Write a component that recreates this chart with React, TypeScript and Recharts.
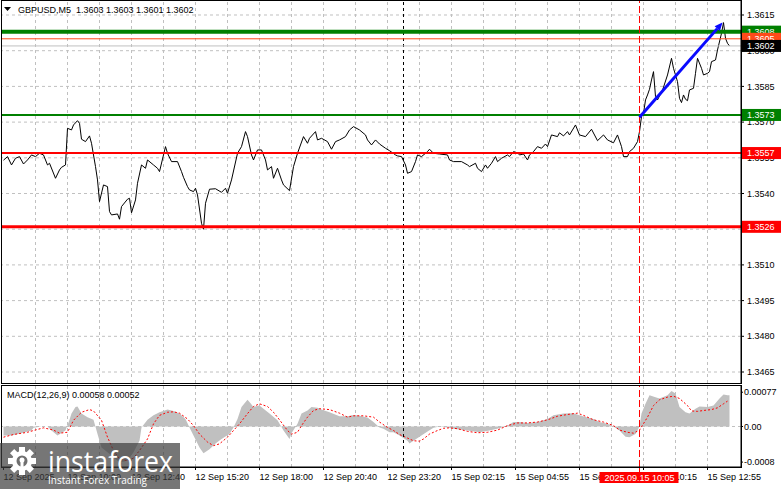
import { ComposedChart, Line, Area, XAxis, YAxis, ReferenceLine } from "recharts";

const FONT = "'Liberation Sans', Arial, sans-serif";
const W = 781;

// GBPUSD M5, bar 0 = 12 Sep 07:20
const priceBars = [
  0, 2, 4, 6, 8, 10, 12, 14, 16, 18, 20, 22, 23, 26, 28, 29, 31, 32, 34, 35, 37, 38, 39, 41, 43, 44,
  46, 47, 48, 50, 52, 53, 54, 57, 58, 59, 62, 63, 64, 66, 67, 69, 71, 72, 75, 77, 78, 80, 81, 82, 84,
  87, 89, 90, 92, 93, 95, 96, 97, 99, 100, 101, 103, 106, 109, 111, 112, 114, 117, 119, 121, 122, 124,
  125, 127, 129, 131, 132, 134, 135, 137, 139, 140, 143, 145, 147, 150, 152, 153, 156, 157, 159, 162,
  164, 166, 168, 171, 173, 175, 178, 181, 182, 184, 186, 188, 191, 193, 196, 197, 199, 201, 202, 204,
  206, 207, 209, 212, 213, 215, 218, 222, 223, 225, 229, 232, 233, 236, 237, 239, 241, 242, 244, 246,
  247, 249, 252, 253, 255, 257, 258, 260, 262, 263, 265, 267, 269, 271, 272, 274, 277, 278, 280, 282,
  283, 286, 288, 291, 294, 297, 300, 302, 305, 307, 309, 310, 312, 313, 315, 317, 318, 319, 320, 321,
  322, 323, 324, 325, 326, 327, 328, 329, 332, 334, 335, 337, 338, 339, 340, 341, 342, 343, 345, 346,
  347, 349, 350, 352, 353, 354, 356, 357, 359, 360, 361, 362, 363,
];
const priceClose = [
  1.3554, 1.35555, 1.3552, 1.35548, 1.35555, 1.35524, 1.35541, 1.35562, 1.35555, 1.35569, 1.35562,
  1.3552, 1.35527, 1.35464, 1.35499, 1.3551, 1.3552, 1.35674, 1.35667, 1.35688, 1.35706, 1.35695,
  1.35628, 1.35618, 1.35642, 1.35611, 1.35513, 1.35457, 1.35366, 1.35436, 1.35429, 1.35324, 1.3531,
  1.35314, 1.35292, 1.35345, 1.35376, 1.3538, 1.35319, 1.35373, 1.35443, 1.3552, 1.35506, 1.35541,
  1.3552, 1.35506, 1.35492, 1.35562, 1.35597, 1.35569, 1.35534, 1.35534, 1.35492, 1.35468, 1.35429,
  1.35415, 1.35408, 1.35422, 1.35394, 1.35275, 1.3525, 1.35359, 1.35418, 1.3542, 1.35405, 1.35422,
  1.35401, 1.35457, 1.35569, 1.35597, 1.3566, 1.35639, 1.35562, 1.35541, 1.35583, 1.35583, 1.35541,
  1.35499, 1.35513, 1.35464, 1.35506, 1.35457, 1.35436, 1.35412, 1.35513, 1.35569, 1.35639, 1.35611,
  1.35632, 1.3566, 1.35625, 1.35632, 1.35618, 1.35586, 1.35618, 1.35625, 1.35639, 1.35667, 1.35681,
  1.35667, 1.35646, 1.35625, 1.35604, 1.35625, 1.35608, 1.3559, 1.3558, 1.35562, 1.35558, 1.35555,
  1.3552, 1.35485, 1.35492, 1.35534, 1.35562, 1.35555, 1.35576, 1.35586, 1.35569, 1.35566, 1.35562,
  1.35541, 1.35534, 1.35534, 1.3552, 1.35513, 1.35527, 1.35506, 1.35492, 1.3552, 1.35506, 1.35527,
  1.35555, 1.35534, 1.35548, 1.35562, 1.35555, 1.35576, 1.35571, 1.35562, 1.35566, 1.35541, 1.35562,
  1.35576, 1.35597, 1.3559, 1.35608, 1.35597, 1.35646, 1.35639, 1.35655, 1.35642, 1.3566, 1.35646,
  1.35688, 1.35646, 1.35639, 1.3567, 1.35622, 1.35646, 1.35625, 1.35613, 1.35646, 1.35597, 1.35555,
  1.35555, 1.35576, 1.3559, 1.35618, 1.3566, 1.35723, 1.35737, 1.35793, 1.35814, 1.35838, 1.35877,
  1.35912, 1.35807, 1.35793, 1.3581, 1.35821, 1.35898, 1.35968, 1.35926, 1.3587, 1.358, 1.35782,
  1.35814, 1.35796, 1.3579, 1.35835, 1.35842, 1.35905, 1.35968, 1.35926, 1.35898, 1.35905, 1.35912,
  1.35954, 1.35961, 1.36003, 1.36073, 1.36118, 1.36052, 1.36031, 1.3602,
];

// MACD(12,26,9) histogram and signal
const histBars = [
  0, 4, 9, 14, 15, 19, 22, 24, 27, 31, 33, 34, 36, 37, 39, 42, 45, 47, 49, 52, 55, 58, 62, 65, 68, 69,
  72, 75, 78, 82, 85, 88, 91, 93, 95, 98, 100, 103, 106, 109, 113, 115, 117, 119, 122, 123, 125, 128,
  130, 133, 137, 140, 143, 144, 147, 149, 152, 154, 157, 159, 163, 168, 172, 175, 178, 182, 185, 188,
  190, 193, 195, 198, 202, 203, 205, 208, 212, 215, 218, 222, 225, 232, 238, 243, 248, 252, 255, 258,
  262, 267, 272, 275, 280, 285, 288, 292, 295, 298, 302, 305, 308, 311, 313, 316, 318, 319, 321, 323,
  326, 328, 332, 334, 336, 338, 341, 343, 346, 348, 352, 355, 358, 360, 362, 363,
];
const histValues = [
  -0.0002, -0.0002, -0.00015, -0.00009, -0.00003, 0, 0, -0.00009, -0.0002, -0.00009, 0.00015, 0.00029,
  0.00044, 0.00045, 0.00029, 0.00021, 0.00015, -0.00017, -0.00047, -0.00058, -0.00069, -0.00081,
  -0.00077, -0.00058, -0.00032, -0.00002, 0.00015, 0.00025, 0.00032, 0.00038, 0.00035, 0.00029,
  0.00017, -0.00002, -0.0002, -0.00047, -0.0006, -0.00051, -0.00038, -0.00028, -0.00017, -0.00002,
  0.00017, 0.00044, 0.0006, 0.00055, 0.00044, 0.00047, 0.0004, 0.00029, 0.00014, -0.00009, -0.00028,
  -0.00015, 0.00006, 0.00029, 0.00036, 0.00044, 0.00042, 0.00038, 0.00032, 0.00023, 0.00023, 0.00026,
  0.00024, 0.0002, 0.0001, -0.00002, -0.00005, -0.00013, -0.00013, -0.0002, -0.00032, -0.00038,
  -0.00032, -0.00023, -0.00011, -0.00003, 0, -0.00002, -0.00005, -0.00009, -0.00013, -0.00009,
  -0.00004, 0.00002, 0.0001, 0.0001, 0.00008, 0.0001, 0.00017, 0.00025, 0.00029, 0.0003, 0.00025,
  0.0002, 0.00017, 0.0001, 0.00006, 0, -0.00009, -0.00023, -0.00024, -0.00017, 0, 0.00029, 0.00051,
  0.0007, 0.00066, 0.00063, 0.0007, 0.0008, 0.00074, 0.00044, 0.00032, 0.00029, 0.0004, 0.00045,
  0.00044, 0.00047, 0.00063, 0.00072, 0.0007, 0.0007,
];
const signalBars = [
  0, 5, 12, 15, 20, 25, 28, 32, 35, 39, 43, 45, 49, 52, 55, 58, 62, 65, 68, 72, 75, 78, 82, 85, 88, 92,
  95, 98, 102, 105, 108, 112, 115, 118, 122, 125, 128, 132, 135, 138, 142, 144, 147, 149, 152, 155,
  158, 163, 168, 172, 175, 180, 185, 188, 192, 195, 198, 202, 205, 208, 210, 213, 217, 220, 223, 227,
  232, 237, 242, 247, 252, 257, 262, 267, 272, 277, 282, 287, 290, 295, 300, 305, 308, 312, 315, 318,
  322, 325, 328, 332, 335, 338, 342, 344, 347, 350, 354, 357, 360, 362,
];
const signalValues = [
  -0.00024, -0.00018, -0.00013, -0.00009, -0.00003, -0.00008, -0.00015, -0.00013, 0.00014, 0.00032,
  0.00038, 0.00035, 0.00014, -0.00024, -0.00054, -0.00073, -0.00077, -0.00071, -0.00054, -0.00028,
  0.00006, 0.00025, 0.00032, 0.00033, 0.0003, 0.00017, 0.00002, -0.00017, -0.00035, -0.00043,
  -0.00039, -0.00024, -0.00009, 0.00006, 0.00029, 0.00045, 0.00051, 0.00045, 0.00032, 0.00015,
  -0.00009, -0.00017, -0.00013, 0.00002, 0.00021, 0.00036, 0.0004, 0.00038, 0.0003, 0.00021, 0.00024,
  0.00024, 0.00021, 0.0001, -0.00002, -0.00009, -0.00018, -0.00026, -0.00032, -0.00033, -0.00028,
  -0.00017, -0.00009, -0.00004, -0.00003, -0.00005, -0.00011, -0.00014, -0.00013, -0.00008, 0.00002,
  0.00008, 0.00008, 0.0001, 0.00015, 0.00023, 0.00027, 0.0003, 0.00025, 0.00015, 0.0001, 0.00002,
  -0.00008, -0.00013, -0.00015, -0.00008, 0.00021, 0.00047, 0.0006, 0.00066, 0.00068, 0.00063,
  0.00047, 0.00035, 0.00034, 0.00036, 0.00038, 0.00042, 0.00051, 0.00057,
];

const priceTicks = [1.3465, 1.348, 1.3495, 1.351, 1.3525, 1.354, 1.3555, 1.357, 1.3585, 1.36, 1.3615];
const gridBars = [16, 32, 48, 64, 80, 96, 112, 128, 144, 160, 176, 192, 208, 224, 240, 256, 272, 288, 304, 320, 336, 352];
const timeBars = [0, 32, 64, 96, 128, 160, 192, 224, 256, 288, 320, 352];
const timeLabels = [
  "12 Sep 2025", "12 Sep 10:00", "12 Sep 12:40", "12 Sep 15:20", "12 Sep 18:00", "12 Sep 20:40",
  "12 Sep 23:20", "15 Sep 02:15", "15 Sep 04:55", "15 Sep 07:35", "15 Sep 10:15", "15 Sep 12:55",
];
const levelPrices = [1.3608, 1.3573, 1.3557, 1.3526];
const askPrice = 1.3605;
const bidPrice = 1.3602;
const tagPrices = [1.3608, 1.3605, 1.3602, 1.3573, 1.3557, 1.3526];
const macdTicks = [-0.0008, 0, 0.00077];
const macdTickLabels = ["-0.0008", "0.00", "0.00077"];
const daySplitBar = 200;
const entryBar = 318;
const entryTime = "2025.09.15 10:05";
const trendStart = { bar: 318, price: 1.3572 };
const trendEnd = { bar: 359.5, price: 1.36118 };
const ohlc = [1.3603, 1.3603, 1.3601, 1.3602];
const macdNow = [0.00058, 0.00052];

// styles
const levelStroke = ["#008000", "#008000", "#ff0000", "#ff0000"];
const levelWidth = [4, 2, 2, 3];
const tagFill = ["#008000", "#ff4a1a", "#000000", "#008000", "#ff0000", "#ff0000"];

const priceData = priceBars.map((bar, k) => ({ bar, close: priceClose[k] }));
const histData = histBars.map((bar, k) => ({ bar, v: histValues[k] }));
const signalData = signalBars.map((bar, k) => ({ bar, v: signalValues[k] }));

// 2px per bar, offset so vertical lines land on pixel centres
const BAR_DOMAIN: [number, number] = [-0.75, 368.75];
const PRICE_DOMAIN: [number, number] = [1.346038, 1.362088];
const MACD_DOMAIN: [number, number] = [-0.00091, 0.00091];
const GRID = "#c0c0c0";

function PriceTick(props: any) {
  const { x, y, payload } = props;
  const k = tagPrices.indexOf(payload.value);
  if (k >= 0) {
    return (
      <g>
        <rect x={x + 1} y={y - 6} width={40} height={12} fill={tagFill[k]} />
        <text x={x + 6} y={y} dy="0.35em" fontSize={9} fontFamily={FONT} fill="#fff">
          {tagPrices[k].toFixed(4)}
        </text>
      </g>
    );
  }
  return (
    <g>
      <line x1={x} x2={x + 3} y1={y} y2={y} stroke="#000" />
      <text x={x + 6} y={y} dy="0.35em" fontSize={9} fontFamily={FONT} fill="#000">
        {Number(payload.value).toFixed(4)}
      </text>
    </g>
  );
}

function MacdTick(props: any) {
  const { x, y, payload } = props;
  const k = macdTicks.indexOf(payload.value);
  return (
    <g>
      <line x1={x} x2={x + 2} y1={y} y2={y} stroke="#000" />
      <text x={x + 3} y={y} dy="0.35em" fontSize={9} fontFamily={FONT} fill="#000">
        {macdTickLabels[k]}
      </text>
    </g>
  );
}

function TimeTick(props: any) {
  const { x, y, payload } = props;
  if (payload.value === entryBar) {
    return (
      <g>
        <line x1={x} x2={x} y1={y} y2={y + 5} stroke="#ff0000" />
        <rect x={x - 40} y={y + 5} width={79} height={11} fill="#ff0000" />
        <text x={x} y={y + 10.5} dy="0.35em" textAnchor="middle" fontSize={9} fontFamily={FONT} fill="#fff">
          {entryTime}
        </text>
      </g>
    );
  }
  const k = timeBars.indexOf(payload.value);
  return (
    <g>
      <line x1={x} x2={x} y1={y} y2={y + 3} stroke="#000" />
      <text x={x} y={y + 10} dy="0.35em" fontSize={9} fontFamily={FONT} fill="#000">
        {timeLabels[k]}
      </text>
    </g>
  );
}

function TrendArrow(props: any) {
  const { x1, y1, x2, y2 } = props;
  const a = Math.atan2(y2 - y1, x2 - x1);
  const bx = x2 - 8 * Math.cos(a);
  const by = y2 - 8 * Math.sin(a);
  const px = -Math.sin(a) * 3.5;
  const py = Math.cos(a) * 3.5;
  return (
    <g>
      <line x1={x1} y1={y1} x2={bx} y2={by} stroke="#0a0aff" strokeWidth={3} />
      <polygon points={`${x2},${y2} ${bx + px},${by + py} ${bx - px},${by - py}`} fill="#0a0aff" />
    </g>
  );
}

function PriceChart() {
  return (
    <ComposedChart width={W} height={384} margin={{ top: 1, right: 0, bottom: 1, left: 2 }}>
      <XAxis type="number" dataKey="bar" domain={BAR_DOMAIN} allowDataOverflow hide />
      <YAxis
        orientation="right"
        width={40}
        type="number"
        domain={PRICE_DOMAIN}
        allowDataOverflow
        ticks={[...priceTicks, ...tagPrices]}
        interval={0}
        tickSize={0}
        tickMargin={0}
        tickLine={false}
        axisLine={{ stroke: "#000" }}
        tick={(p: any) => <PriceTick {...p} />}
      />
      {priceTicks.map((t) => (
        <ReferenceLine key={"h" + t} y={t} stroke={GRID} strokeDasharray="3 3" />
      ))}
      {gridBars.map((b) => (
        <ReferenceLine key={"v" + b} x={b} stroke={GRID} strokeDasharray="3 3" />
      ))}
      <ReferenceLine x={daySplitBar} stroke="#000" strokeDasharray="3 3" />
      <Line
        data={priceData}
        dataKey="close"
        type="linear"
        stroke="#000"
        strokeWidth={1}
        dot={false}
        isAnimationActive={false}
      />
      <ReferenceLine y={bidPrice} stroke="#c0c0c0" />
      <ReferenceLine y={askPrice} stroke="#ff4a1a" />
      {levelPrices.map((p, k) => (
        <ReferenceLine key={"l" + p} y={p} stroke={levelStroke[k]} strokeWidth={levelWidth[k]} />
      ))}
      <ReferenceLine x={entryBar} stroke="#ff0000" strokeDasharray="7 3" />
      <ReferenceLine
        segment={[
          { x: trendStart.bar, y: trendStart.price },
          { x: trendEnd.bar, y: trendEnd.price },
        ]}
        ifOverflow="visible"
        shape={(p: any) => <TrendArrow {...p} />}
      />
    </ComposedChart>
  );
}

function MacdChart() {
  return (
    <ComposedChart width={W} height={105} margin={{ top: 2, right: 0, bottom: 0, left: 2 }}>
      <XAxis
        type="number"
        dataKey="bar"
        domain={BAR_DOMAIN}
        allowDataOverflow
        ticks={[...timeBars, entryBar]}
        interval={0}
        height={22}
        tickSize={0}
        tickMargin={0}
        tickLine={false}
        axisLine={{ stroke: "#000" }}
        tick={(p: any) => <TimeTick {...p} />}
      />
      <YAxis
        orientation="right"
        width={40}
        type="number"
        domain={MACD_DOMAIN}
        allowDataOverflow
        ticks={macdTicks}
        interval={0}
        tickSize={0}
        tickMargin={0}
        tickLine={false}
        axisLine={{ stroke: "#000" }}
        tick={(p: any) => <MacdTick {...p} />}
      />
      <ReferenceLine y={0} stroke={GRID} strokeDasharray="3 3" />
      {gridBars.map((b) => (
        <ReferenceLine key={"v" + b} x={b} stroke={GRID} strokeDasharray="3 3" />
      ))}
      <Area
        data={histData}
        dataKey="v"
        type="linear"
        baseValue={0}
        fill="#c0c0c0"
        fillOpacity={1}
        stroke="none"
        isAnimationActive={false}
      />
      <Line
        data={signalData}
        dataKey="v"
        type="linear"
        stroke="#ff0000"
        strokeDasharray="2 2"
        strokeWidth={1}
        dot={false}
        isAnimationActive={false}
      />
      <ReferenceLine x={daySplitBar} stroke="#000" strokeDasharray="3 3" />
      <ReferenceLine x={entryBar} stroke="#ff0000" strokeDasharray="7 3" />
    </ComposedChart>
  );
}

function Gear() {
  const teeth = [0, 45, 90, 135, 180, 225, 270, 315];
  return (
    <g transform="translate(22 461)">
      {teeth.map((a) => (
        <rect key={a} x={-3} y={-14} width={6} height={6} fill="#fff" transform={`rotate(${a})`} />
      ))}
      <circle r={10} fill="#fff" />
      <circle r={5.5} fill="#6f6f6f" />
      <rect x={-1.5} y={-1} width={3} height={10} fill="#fff" />
      <circle cy={-1} r={2.5} fill="#fff" />
    </g>
  );
}

function Overlay() {
  return (
    <svg width={W} height={489} style={{ position: "absolute", left: 0, top: 0, pointerEvents: "none" }}>
      <rect x={1.5} y={0.5} width={740} height={383} fill="none" stroke="#000" />
      <rect x={1.5} y={385.5} width={740} height={82} fill="none" stroke="#000" />
      <polygon points="4,7 11,7 7.5,11" fill="#000" />
      <text x={18} y={13} fontSize={9} fontFamily={FONT} fill="#000" xmlSpace="preserve">
        {"GBPUSD,M5  " + ohlc.map((v) => v.toFixed(4)).join(" ")}
      </text>
      <text x={7} y={398} fontSize={9} fontFamily={FONT} fill="#000">
        {"MACD(12,26,9) " + macdNow.map((v) => v.toFixed(5)).join(" ")}
      </text>
      <rect x={0} y={443} width={180} height={46} fill="rgba(60,60,60,0.7)" />
      <Gear />
      <text
        x={48}
        y={472}
        fontSize={30}
        fontFamily="'Open Sans', sans-serif"
        fill="#fff"
        textLength={125}
        lengthAdjust="spacingAndGlyphs"
      >
        instaforex
      </text>
      <text
        x={48}
        y={484}
        fontSize={11.5}
        fontFamily="'Open Sans', sans-serif"
        fill="#fff"
        textLength={99}
        lengthAdjust="spacingAndGlyphs"
      >
        Instant Forex Trading
      </text>
    </svg>
  );
}

export default function App() {
  return (
    <div style={{ position: "relative", width: W, height: 489, background: "#fff", overflow: "hidden" }}>
      <style>{"body{margin:0}"}</style>
      <div style={{ position: "absolute", left: 0, top: 0 }}>
        <PriceChart />
      </div>
      <div style={{ position: "absolute", left: 0, top: 384 }}>
        <MacdChart />
      </div>
      <Overlay />
    </div>
  );
}
